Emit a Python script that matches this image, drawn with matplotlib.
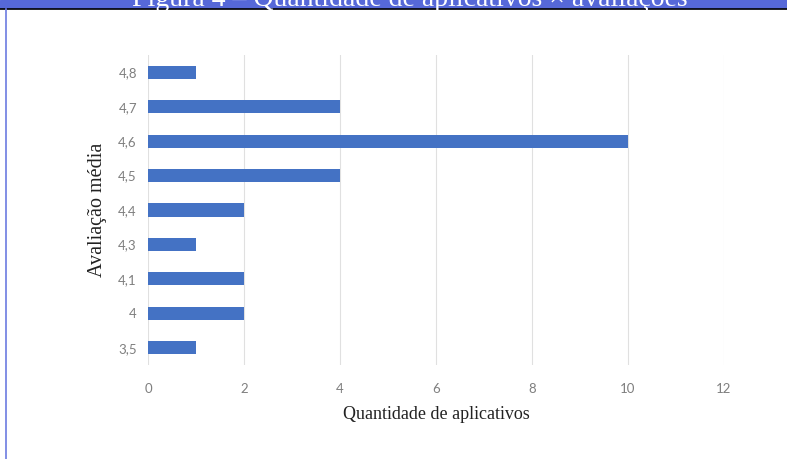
import matplotlib.pyplot as plt
from matplotlib.patches import Rectangle
from matplotlib.lines import Line2D

# dados
avaliacoes = ['3,5', '4', '4,1', '4,3', '4,4', '4,5', '4,6', '4,7', '4,8']
quantidade = [1, 2, 2, 1, 2, 4, 10, 4, 1]
xticks = [0, 2, 4, 6, 8, 10, 12]

fig = plt.figure(figsize=(7.87, 4.59), dpi=100)

# faixa azul do titulo (cortada) e bordas
fig.add_artist(Rectangle((0, 1 - 8/459), 1, 8/459, transform=fig.transFigure,
                         color='#5668D8', zorder=0))
fig.text(410/787, 1 - 6/459, 'Figura 4 – Quantidade de aplicativos × avaliações',
         ha='center', va='baseline', color='white', fontsize=20,
         family='Liberation Serif')
fig.add_artist(Line2D([0, 1], [1 - 9/459, 1 - 9/459], transform=fig.transFigure,
                      color='black', lw=1.2))
fig.add_artist(Line2D([6/787, 6/787], [0, 1 - 9/459], transform=fig.transFigure,
                      color='#6C7BE0', lw=1.2))

ax = fig.add_axes([148/787, 1 - 365/459, (724 - 148)/787, (365 - 55)/459])
ypos = range(len(avaliacoes))
ax.barh(ypos, quantidade, height=0.38, color='#4472C4', zorder=3)

ax.set_xlim(0, 12)
ax.set_ylim(-0.5, len(avaliacoes) - 0.5)
ax.set_xticks(xticks)
ax.set_xticklabels([str(t) for t in xticks])
ax.set_yticks(list(ypos))
ax.set_yticklabels(avaliacoes)
ax.tick_params(axis='both', length=0, labelsize=9.5, colors='#7F7F7F', pad=13)
ax.tick_params(axis='y', pad=8)
for lab in ax.get_xticklabels() + ax.get_yticklabels():
    lab.set_family('Lato')

ax.grid(axis='x', color='#E0E0E0', lw=0.8, zorder=0)
for s in ax.spines.values():
    s.set_visible(False)

ax.set_xlabel('Quantidade de aplicativos', family='Liberation Serif',
              fontsize=13, color='#222222', labelpad=8)
ax.set_ylabel('Avaliação média', family='Liberation Serif',
              fontsize=14.5, color='#222222', labelpad=8)

plt.savefig('out.png', dpi=100)
